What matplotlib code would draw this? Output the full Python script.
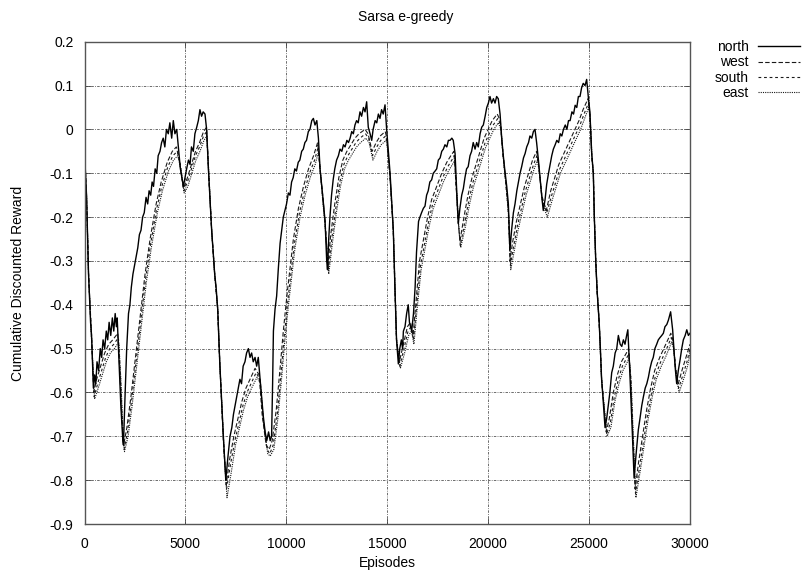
import matplotlib
matplotlib.use("Agg")
import matplotlib.pyplot as plt

plt.rcParams['font.family'] = ['Liberation Sans', 'DejaVu Sans']

# ---- data (episode, cumulative discounted reward) ----
north = [
    (0, -0.05), (100, -0.15), (200, -0.33), (300, -0.44), (350, -0.47), (440, -0.59),
    (500, -0.56), (560, -0.58), (620, -0.53), (700, -0.55), (780, -0.50), (850, -0.52),
    (920, -0.48), (1000, -0.50), (1080, -0.46), (1150, -0.48), (1220, -0.44), (1300, -0.47),
    (1380, -0.43), (1450, -0.46), (1520, -0.42), (1580, -0.45), (1620, -0.43), (1700, -0.52),
    (1800, -0.63), (1900, -0.71), (1930, -0.72), (2000, -0.62), (2090, -0.50), (2180, -0.42),
    (2250, -0.40), (2320, -0.36), (2400, -0.33), (2480, -0.31), (2560, -0.29), (2640, -0.27),
    (2720, -0.24), (2800, -0.23), (2880, -0.20), (2960, -0.19), (3050, -0.155), (3130, -0.17),
    (3200, -0.14), (3280, -0.15), (3350, -0.12), (3420, -0.13), (3500, -0.09), (3580, -0.10),
    (3650, -0.06), (3740, -0.05), (3820, -0.03), (3900, -0.02), (3980, -0.04), (4060, 0.00),
    (4150, -0.01), (4230, 0.015), (4320, -0.02), (4400, 0.02), (4480, -0.01), (4570, 0.00),
    (4650, -0.04), (4750, -0.09), (4900, -0.13), (4980, -0.11), (5060, -0.09), (5150, -0.07),
    (5230, -0.08), (5300, -0.04), (5390, -0.05), (5470, -0.01), (5560, 0.005), (5640, 0.02),
    (5720, 0.045), (5800, 0.03), (5880, 0.04), (5970, 0.035), (6050, 0.00), (6150, -0.10),
    (6300, -0.23), (6450, -0.33), (6520, -0.36), (6600, -0.41), (6700, -0.53), (6880, -0.70),
    (7000, -0.80), (7100, -0.75), (7210, -0.70), (7300, -0.68), (7380, -0.65), (7460, -0.63),
    (7540, -0.61), (7620, -0.59), (7700, -0.57), (7780, -0.58), (7860, -0.54), (7950, -0.53),
    (8030, -0.51), (8120, -0.50), (8200, -0.52), (8280, -0.51), (8360, -0.53), (8450, -0.52),
    (8530, -0.54), (8610, -0.52), (8700, -0.57), (8860, -0.655), (8950, -0.69), (9030, -0.71),
    (9120, -0.69), (9200, -0.71), (9270, -0.70), (9320, -0.58), (9360, -0.46), (9440, -0.41),
    (9520, -0.38), (9600, -0.32), (9690, -0.26), (9770, -0.23), (9850, -0.20), (9930, -0.185),
    (10010, -0.17), (10100, -0.145), (10180, -0.15), (10260, -0.12), (10340, -0.11), (10420, -0.09),
    (10500, -0.095), (10590, -0.075), (10670, -0.07), (10760, -0.05), (10840, -0.045), (10920, -0.03),
    (11000, -0.025), (11090, -0.005), (11170, 0.00), (11260, 0.02), (11340, 0.025), (11420, 0.01),
    (11510, 0.02), (11590, -0.02), (11670, -0.09), (11800, -0.15), (11920, -0.21), (12000, -0.30),
    (12040, -0.32), (12100, -0.25), (12160, -0.20), (12240, -0.15), (12320, -0.115), (12400, -0.09),
    (12490, -0.07), (12580, -0.06), (12660, -0.045), (12750, -0.05), (12830, -0.035), (12910, -0.04),
    (13000, -0.025), (13080, -0.03), (13160, -0.02), (13240, -0.005), (13320, -0.01), (13400, 0.01),
    (13480, 0.02), (13560, 0.015), (13650, 0.04), (13730, 0.03), (13820, 0.05), (13900, 0.04),
    (13980, 0.063), (14060, 0.005), (14150, -0.01), (14230, -0.025), (14300, 0.00), (14400, 0.02),
    (14480, 0.015), (14560, 0.035), (14640, 0.025), (14720, 0.045), (14800, 0.035), (14890, 0.056),
    (14970, 0.00), (15140, -0.10), (15300, -0.23), (15380, -0.36), (15460, -0.48), (15550, -0.535),
    (15620, -0.50), (15700, -0.48), (15760, -0.50), (15800, -0.46), (15880, -0.45), (15960, -0.42),
    (16040, -0.40), (16100, -0.44), (16210, -0.46), (16300, -0.42), (16380, -0.36), (16450, -0.28),
    (16550, -0.21), (16620, -0.20), (16700, -0.19), (16790, -0.18), (16870, -0.175), (16950, -0.15),
    (17030, -0.14), (17110, -0.12), (17200, -0.115), (17280, -0.10), (17370, -0.095), (17450, -0.09),
    (17530, -0.07), (17620, -0.065), (17700, -0.05), (17780, -0.045), (17860, -0.035), (17950, -0.04),
    (18030, -0.025), (18110, -0.025), (18200, -0.02), (18270, -0.025), (18360, -0.055), (18440, -0.14),
    (18520, -0.215), (18600, -0.18), (18690, -0.15), (18770, -0.135), (18850, -0.11), (18930, -0.09),
    (19010, -0.085), (19100, -0.06), (19180, -0.05), (19260, -0.03), (19350, -0.045), (19430, -0.03),
    (19510, -0.04), (19600, -0.01), (19680, 0.005), (19760, 0.01), (19850, 0.03), (19930, 0.05),
    (20010, 0.06), (20090, 0.075), (20170, 0.06), (20260, 0.07), (20340, 0.06), (20420, 0.075),
    (20500, 0.07), (20590, 0.035), (20670, -0.02), (20750, -0.06), (20830, -0.095), (20920, -0.13),
    (21000, -0.17), (21080, -0.275), (21160, -0.23), (21250, -0.19), (21330, -0.17), (21420, -0.14),
    (21500, -0.12), (21580, -0.10), (21660, -0.085), (21750, -0.065), (21830, -0.055), (21910, -0.04),
    (22000, -0.03), (22070, -0.015), (22160, -0.02), (22240, -0.005), (22320, 0.00), (22400, -0.03),
    (22490, -0.07), (22570, -0.11), (22650, -0.15), (22730, -0.185), (22820, -0.16), (22900, -0.125),
    (22990, -0.10), (23070, -0.08), (23150, -0.06), (23230, -0.045), (23320, -0.035), (23400, -0.025),
    (23490, -0.03), (23570, -0.01), (23650, -0.015), (23730, 0.00), (23820, 0.01), (23900, 0.00),
    (23980, 0.02), (24060, 0.02), (24150, 0.04), (24230, 0.035), (24310, 0.055), (24390, 0.05),
    (24470, 0.075), (24550, 0.075), (24630, 0.095), (24710, 0.105), (24800, 0.10), (24880, 0.114),
    (24960, 0.075), (25040, 0.04), (25130, -0.055), (25210, -0.10), (25260, -0.20), (25330, -0.30),
    (25400, -0.37), (25500, -0.44), (25560, -0.50), (25620, -0.57), (25700, -0.62), (25790, -0.68),
    (25870, -0.66), (25950, -0.63), (26030, -0.60), (26120, -0.555), (26200, -0.54), (26290, -0.51),
    (26370, -0.50), (26450, -0.47), (26540, -0.49), (26620, -0.495), (26700, -0.48), (26780, -0.49),
    (26860, -0.47), (26920, -0.457), (27000, -0.535), (27120, -0.665), (27230, -0.795), (27330, -0.74),
    (27440, -0.685), (27520, -0.66), (27610, -0.63), (27690, -0.61), (27780, -0.59), (27860, -0.58),
    (27940, -0.565), (28020, -0.545), (28100, -0.53), (28180, -0.52), (28260, -0.50), (28350, -0.49),
    (28430, -0.48), (28510, -0.475), (28600, -0.47), (28680, -0.465), (28760, -0.45), (28850, -0.445),
    (28930, -0.435), (29040, -0.416), (29140, -0.457), (29260, -0.54), (29340, -0.58), (29420, -0.55),
    (29510, -0.525), (29590, -0.50), (29670, -0.48), (29760, -0.47), (29840, -0.457), (29920, -0.47),
    (30000, -0.465),
]

west = [
    (0, -0.05), (100, -0.15), (200, -0.33), (350, -0.47), (460, -0.60), (600, -0.57), (800, -0.54),
    (1000, -0.51), (1200, -0.49), (1400, -0.48), (1650, -0.465), (1750, -0.55), (1850, -0.66),
    (1940, -0.72), (2100, -0.68), (2300, -0.61), (2500, -0.53), (2750, -0.43), (3000, -0.33),
    (3250, -0.25), (3550, -0.17), (3800, -0.12), (4100, -0.075), (4350, -0.05), (4550, -0.04),
    (4700, -0.07), (4900, -0.135), (5100, -0.11),
    (5300, -0.08), (5500, -0.05), (5700, -0.03), (5900, -0.005), (6050, 0.005), (6150, -0.10),
    (6300, -0.23), (6450, -0.33), (6600, -0.41), (6700, -0.53), (6880, -0.71), (7020, -0.81),
    (7200, -0.75), (7400, -0.70), (7600, -0.66), (7800, -0.62), (8000, -0.59), (8200, -0.57),
    (8450, -0.545), (8650, -0.56), (8800, -0.65), (9000, -0.72), (9150, -0.73), (9300, -0.71),
    (9500, -0.64), (9700, -0.54), (9850, -0.46), (10050, -0.37), (10350, -0.25), (10600, -0.18),
    (10850, -0.13), (11100, -0.09), (11350, -0.06), (11550, -0.03),
    (11670, -0.09), (11800, -0.15), (11920, -0.21), (12060, -0.31), (12200, -0.24), (12400, -0.17),
    (12600, -0.11), (12800, -0.07), (13000, -0.05), (13200, -0.035), (13400, -0.02), (13600, -0.01),
    (13900, 0.00), (14050, -0.01), (14250, -0.05), (14450, -0.03), (14650, -0.015), (14900, -0.005),
    (14980, -0.02), (15140, -0.11), (15300, -0.23), (15380, -0.36), (15460, -0.48), (15600, -0.53),
    (15800, -0.49), (16000, -0.45), (16150, -0.44), (16280, -0.47), (16450, -0.38), (16600, -0.30),
    (16800, -0.25), (17000, -0.20), (17200, -0.16), (17450, -0.13), (17700, -0.10), (17950, -0.075),
    (18150, -0.06), (18300, -0.05), (18400, -0.12), (18500, -0.20), (18600, -0.255), (18800, -0.20),
    (19000, -0.15), (19200, -0.11), (19400, -0.08), (19600, -0.05), (19800, -0.02), (20000, 0.00),
    (20200, 0.02), (20450, 0.035), (20600, 0.02), (20700, -0.04), (20850, -0.11), (21000, -0.18),
    (21080, -0.30), (21200, -0.26), (21400, -0.21), (21600, -0.17), (21800, -0.13), (22000, -0.10),
    (22200, -0.07), (22400, -0.05), (22500, -0.08), (22650, -0.15), (22880, -0.185), (23100, -0.14),
    (23300, -0.11), (23500, -0.08), (23700, -0.06), (23900, -0.04), (24100, -0.02), (24300, 0.00),
    (24500, 0.02), (24700, 0.045), (24950, 0.07), (25040, 0.035), (25130, -0.06), (25210, -0.10),
    (25260, -0.20), (25330, -0.30), (25400, -0.37), (25500, -0.44), (25620, -0.57), (25850, -0.69),
    (26000, -0.66), (26200, -0.60), (26400, -0.56), (26600, -0.53), (26850, -0.51), (26950, -0.50),
    (27050, -0.56), (27150, -0.68), (27280, -0.82), (27450, -0.76), (27650, -0.70), (27850, -0.64),
    (28050, -0.59), (28250, -0.55), (28500, -0.52), (28750, -0.495), (29050, -0.465), (29150, -0.48),
    (29300, -0.55), (29420, -0.58), (29600, -0.55), (29800, -0.52), (30000, -0.49),
]

south = [
    (0, -0.05), (100, -0.15), (200, -0.33), (350, -0.48), (480, -0.61), (650, -0.58), (850, -0.55),
    (1050, -0.52), (1250, -0.50), (1450, -0.49), (1680, -0.475), (1780, -0.56), (1880, -0.67),
    (1960, -0.73), (2130, -0.69), (2330, -0.62), (2530, -0.54), (2780, -0.44), (3030, -0.34),
    (3280, -0.26), (3580, -0.18), (3830, -0.13), (4130, -0.085), (4380, -0.06), (4600, -0.05),
    (4750, -0.08), (4920, -0.14), (5100, -0.12),
    (5300, -0.09), (5500, -0.06), (5700, -0.04), (5900, -0.015), (6050, -0.005), (6150, -0.10),
    (6300, -0.23), (6450, -0.33), (6600, -0.41), (6700, -0.53), (6900, -0.72), (7040, -0.82),
    (7250, -0.76), (7450, -0.71), (7650, -0.67), (7850, -0.63), (8050, -0.60), (8250, -0.58),
    (8500, -0.555), (8700, -0.57), (8850, -0.66), (9050, -0.73), (9180, -0.74), (9350, -0.72),
    (9550, -0.65), (9750, -0.55), (9900, -0.47), (10100, -0.38), (10400, -0.26), (10650, -0.19),
    (10900, -0.14), (11150, -0.10), (11400, -0.07), (11580, -0.04),
    (11680, -0.095), (11800, -0.155), (11920, -0.215), (12080, -0.32), (12250, -0.25), (12450, -0.18),
    (12650, -0.12), (12850, -0.08), (13050, -0.06), (13250, -0.045), (13450, -0.03), (13650, -0.02),
    (13920, -0.01), (14080, -0.02), (14270, -0.06), (14480, -0.04), (14680, -0.025), (14920, -0.015),
    (14990, -0.03), (15140, -0.11), (15300, -0.23), (15380, -0.36), (15460, -0.48), (15620, -0.54),
    (15830, -0.50), (16030, -0.46), (16180, -0.45), (16300, -0.48), (16480, -0.39), (16650, -0.31),
    (16850, -0.26), (17050, -0.21), (17250, -0.17), (17500, -0.14), (17750, -0.11), (18000, -0.085),
    (18200, -0.07), (18330, -0.06), (18420, -0.13), (18520, -0.21), (18620, -0.265), (18850, -0.21),
    (19050, -0.16), (19250, -0.12), (19450, -0.09), (19650, -0.06), (19850, -0.03), (20050, -0.01),
    (20250, 0.01), (20480, 0.025), (20620, 0.01), (20720, -0.05), (20870, -0.12), (21000, -0.19),
    (21100, -0.31), (21250, -0.27), (21450, -0.22), (21650, -0.18), (21850, -0.14), (22050, -0.11),
    (22250, -0.08), (22420, -0.06), (22520, -0.09), (22680, -0.16), (22900, -0.19), (23150, -0.15),
    (23350, -0.12), (23550, -0.09), (23750, -0.07), (23950, -0.05), (24150, -0.03), (24350, -0.01),
    (24550, 0.01), (24750, 0.035), (24970, 0.06), (25050, 0.03), (25130, -0.06), (25210, -0.10),
    (25260, -0.20), (25330, -0.30), (25400, -0.37), (25500, -0.44), (25620, -0.57), (25870, -0.695),
    (26050, -0.67), (26250, -0.61), (26450, -0.57), (26650, -0.54), (26880, -0.52), (26970, -0.51),
    (27070, -0.57), (27170, -0.69), (27300, -0.83), (27500, -0.77), (27700, -0.71), (27900, -0.65),
    (28100, -0.60), (28300, -0.56), (28550, -0.53), (28800, -0.505), (29070, -0.475), (29170, -0.49),
    (29320, -0.56), (29440, -0.59), (29650, -0.56), (29850, -0.53), (30000, -0.50),
]

east = [
    (0, -0.05), (100, -0.15), (200, -0.33), (350, -0.48), (500, -0.615), (680, -0.59), (880, -0.56),
    (1080, -0.53), (1280, -0.51), (1480, -0.50), (1700, -0.485), (1800, -0.57), (1900, -0.68),
    (1980, -0.735), (2160, -0.70), (2360, -0.63), (2560, -0.55), (2810, -0.45), (3060, -0.35),
    (3310, -0.27), (3610, -0.19), (3860, -0.14), (4160, -0.095), (4410, -0.07), (4620, -0.06),
    (4770, -0.09), (4940, -0.145), (5120, -0.13),
    (5320, -0.10), (5520, -0.07), (5720, -0.05), (5920, -0.025), (6060, -0.015), (6160, -0.10),
    (6300, -0.23), (6450, -0.33), (6600, -0.41), (6700, -0.53), (6920, -0.74), (7060, -0.84),
    (7280, -0.78), (7480, -0.72), (7680, -0.68), (7880, -0.64), (8080, -0.61), (8280, -0.59),
    (8550, -0.565), (8720, -0.58), (8870, -0.67), (9080, -0.74), (9200, -0.745), (9380, -0.73),
    (9580, -0.66), (9780, -0.56), (9930, -0.48), (10130, -0.39), (10430, -0.27), (10680, -0.20),
    (10930, -0.15), (11180, -0.11), (11430, -0.08), (11600, -0.05),
    (11690, -0.10), (11800, -0.16), (11920, -0.22), (12100, -0.33), (12280, -0.26), (12480, -0.19),
    (12680, -0.13), (12880, -0.09), (13080, -0.07), (13280, -0.055), (13480, -0.04), (13680, -0.03),
    (13940, -0.02), (14100, -0.03), (14290, -0.07), (14500, -0.05), (14700, -0.035), (14940, -0.025),
    (15000, -0.04), (15140, -0.11), (15300, -0.23), (15380, -0.36), (15460, -0.48), (15650, -0.545),
    (15860, -0.51), (16060, -0.47), (16200, -0.46), (16320, -0.49), (16500, -0.40), (16680, -0.32),
    (16880, -0.27), (17080, -0.22), (17280, -0.18), (17530, -0.15), (17780, -0.12), (18030, -0.095),
    (18230, -0.08), (18350, -0.07), (18440, -0.14), (18540, -0.22), (18640, -0.27), (18880, -0.22),
    (19080, -0.17), (19280, -0.13), (19480, -0.10), (19680, -0.07), (19880, -0.04), (20080, -0.02),
    (20280, 0.00), (20500, 0.015), (20640, 0.00), (20740, -0.06), (20890, -0.13), (21020, -0.20),
    (21120, -0.32), (21280, -0.28), (21480, -0.23), (21680, -0.19), (21880, -0.15), (22080, -0.12),
    (22280, -0.09), (22440, -0.07), (22540, -0.10), (22700, -0.17), (22930, -0.20), (23180, -0.16),
    (23380, -0.13), (23580, -0.10), (23780, -0.08), (23980, -0.06), (24180, -0.04), (24380, -0.02),
    (24580, 0.00), (24780, 0.025), (24980, 0.05), (25060, 0.02), (25140, -0.06), (25210, -0.10),
    (25260, -0.20), (25330, -0.30), (25400, -0.37), (25500, -0.44), (25620, -0.57), (25890, -0.70),
    (26080, -0.68), (26280, -0.62), (26480, -0.58), (26680, -0.55), (26900, -0.53), (26990, -0.52),
    (27090, -0.58), (27190, -0.70), (27320, -0.84), (27530, -0.78), (27730, -0.72), (27930, -0.66),
    (28130, -0.61), (28330, -0.57), (28580, -0.54), (28830, -0.515), (29090, -0.485), (29190, -0.50),
    (29340, -0.57), (29460, -0.60), (29680, -0.57), (29880, -0.54), (30000, -0.51),
]

series_names = ["north", "west", "south", "east"]
x_ticks = [0, 5000, 10000, 15000, 20000, 25000, 30000]
y_ticks = [0.2, 0.1, 0, -0.1, -0.2, -0.3, -0.4, -0.5, -0.6, -0.7, -0.8, -0.9]

fig = plt.figure(figsize=(8.11, 5.78), dpi=100)
ax = fig.add_axes([84.5 / 811, 1 - 524 / 578, (690 - 84.5) / 811, (524 - 41.7) / 578])

styles = [
    dict(color="black", lw=1.0, linestyle="-"),
    dict(color="#1a1a1a", lw=0.8, linestyle=(0, (4, 2))),
    dict(color="#1a1a1a", lw=0.8, linestyle=(0, (2.5, 2.5))),
    dict(color="#1a1a1a", lw=0.8, linestyle=(0, (1, 1))),
]
# draw back to front so north is on top
for name, data, st in reversed(list(zip(series_names, [north, west, south, east], styles))):
    xs = [p[0] for p in data]
    ys = [p[1] for p in data]
    ax.plot(xs, ys, label=name, **st)

ax.set_xlim(0, 30000)
ax.set_ylim(-0.9, 0.2)
ax.set_xticks(x_ticks)
ax.set_yticks(y_ticks)
ax.set_xticklabels([str(t) for t in x_ticks])
ax.set_yticklabels(["%g" % t for t in y_ticks])
ax.tick_params(direction="in", length=4, width=0.6, labelsize=10, top=True, right=True,
               color="#444444")
ax.tick_params(axis="x", pad=9)
ax.tick_params(axis="y", pad=8)
ax.grid(True, color="#555555", lw=0.6, linestyle=(0, (3, 1.5, 1, 1.5)))
for sp in ax.spines.values():
    sp.set_color("#555555")
    sp.set_linewidth(1.0)

fig.text(0.5, 1 - 17 / 578, "Sarsa e-greedy", ha="center", va="center", fontsize=10)
fig.text(18 / 811, 1 - 283 / 578, "Cumulative Discounted Reward", ha="center", va="center",
         rotation=90, fontsize=10)
fig.text(387 / 811, 1 - 563 / 578, "Episodes", ha="center", va="center", fontsize=10)

handles, labels = ax.get_legend_handles_labels()
order = [labels.index(n) for n in series_names]
leg = ax.legend([handles[i] for i in order], [labels[i] for i in order],
                loc="upper right", bbox_to_anchor=(800 / 811, 1 - 40 / 578),
                bbox_transform=fig.transFigure, frameon=False, markerfirst=False,
                handlelength=3.0, handletextpad=0.7, labelspacing=0.1,
                borderpad=0, borderaxespad=0, fontsize=10)

fig.savefig("out.png", dpi=100)
